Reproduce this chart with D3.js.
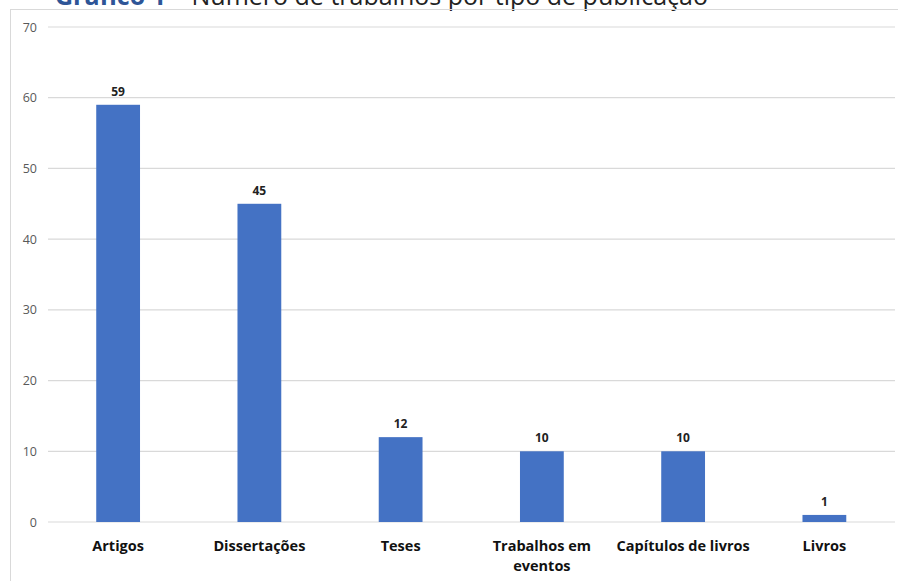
<!DOCTYPE html>
<html><head><meta charset="utf-8">
<script src="https://cdn.jsdelivr.net/npm/d3@7"></script>
<style>body{margin:0;background:#fff;}svg{display:block;}</style>
</head><body>
<svg id="c" width="898" height="581"></svg>
<script>
const categories = ["Artigos", "Dissertações", "Teses", "Trabalhos em eventos", "Capítulos de livros", "Livros"];
const values = [59, 45, 12, 10, 10, 1];
const yTicks = [0, 10, 20, 30, 40, 50, 60, 70];
const titleParts = ["Gráfico 1", " – Número de trabalhos por tipo de publicação"];

const svg = d3.select("#c");
const font = "'Open Sans', sans-serif";

// title (clipped at top, as in the reference)
const t = svg.append("text").attr("x", 55).attr("y", 5).attr("font-family", font).attr("font-size", 25);
t.append("tspan").attr("fill", "#2E5597").attr("font-weight", "bold").text(titleParts[0]);
t.append("tspan").attr("fill", "#222").text(titleParts[1]);

// frame
svg.append("rect").attr("x", 10.5).attr("y", 9.5).attr("width", 900).attr("height", 600)
  .attr("fill", "none").attr("stroke", "#d9d9d9").attr("stroke-width", 1);

const x = d3.scaleBand().domain(categories).range([47.5, 895]).paddingInner(0.69).paddingOuter(0.345);
const y = d3.scaleLinear().domain([0, 70]).range([522, 27]);

// gridlines
svg.append("g").selectAll("line").data(yTicks).join("line")
  .attr("x1", 48).attr("x2", 895).attr("y1", d => y(d)).attr("y2", d => y(d))
  .attr("stroke", "#d9d9d9").attr("stroke-width", 1.2);

// y axis labels
const yAxis = d3.axisLeft(y).tickValues(yTicks).tickSize(0).tickPadding(0);
const gy = svg.append("g").attr("transform", "translate(37,0)").call(yAxis);
gy.select(".domain").remove();
gy.selectAll("text").attr("font-family", font).attr("font-size", 12.5).attr("fill", "#595959");

// bars
svg.append("g").selectAll("rect").data(values).join("rect")
  .attr("x", (d, i) => x(categories[i])).attr("width", x.bandwidth())
  .attr("y", d => y(d)).attr("height", d => y(0) - y(d)).attr("fill", "#4472C4");

// value labels
svg.append("g").selectAll("text").data(values).join("text")
  .attr("x", (d, i) => x(categories[i]) + x.bandwidth() / 2).attr("y", d => y(d) - 9)
  .attr("text-anchor", "middle").attr("font-family", font).attr("font-size", 12)
  .attr("font-weight", "bold").attr("fill", "#222").text(d => d);

// category labels
const xAxis = d3.axisBottom(x).tickSize(0).tickPadding(0);
const gx = svg.append("g").attr("transform", "translate(0,522)").call(xAxis);
gx.select(".domain").remove();
gx.selectAll("text").attr("font-family", font).attr("font-size", 14.5).attr("font-weight", "bold")
  .attr("fill", "#111").attr("dy", null).attr("y", 29)
  .each(function(d) {
    const el = d3.select(this);
    if (d === "Trabalhos em eventos") {
      el.text(null);
      el.append("tspan").attr("x", 0).attr("dy", 0).text("Trabalhos em");
      el.append("tspan").attr("x", 0).attr("dy", 20).text("eventos");
    }
  });
</script>
</body></html>
